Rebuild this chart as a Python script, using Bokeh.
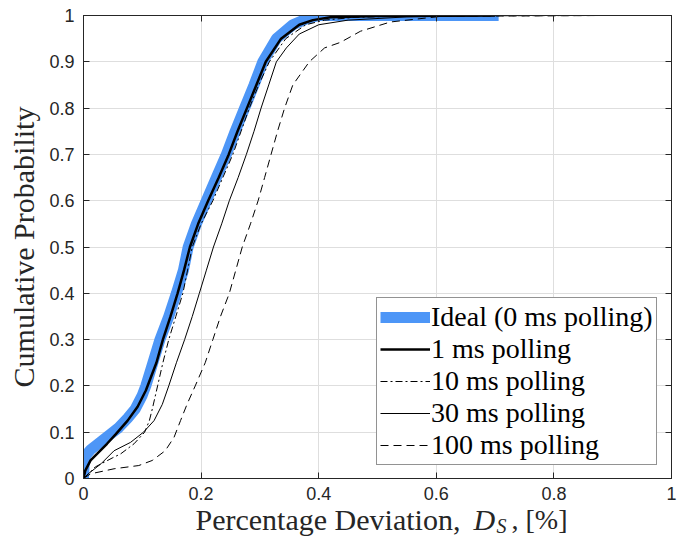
from bokeh.plotting import figure
from bokeh.models import (LinearAxis, FixedTicker, Legend, LegendItem,
                          Range1d, CustomJSTickFormatter)
from bokeh.core.properties import value
from bokeh.layouts import column
from bokeh.embed import file_html
from bokeh.resources import INLINE

# ---------------- data ----------------
ideal_x = [0, 0.001, 0.004, 0.012, 0.025, 0.045, 0.060, 0.075, 0.088, 0.100, 0.106,
           0.118, 0.130, 0.145, 0.158, 0.170, 0.178, 0.192, 0.209, 0.226, 0.243,
           0.258, 0.274, 0.290, 0.305, 0.328, 0.356, 0.380, 0.400, 0.706]
ideal_y = [0, 0.03, 0.05, 0.062, 0.075, 0.095, 0.11, 0.13, 0.15, 0.18, 0.20,
           0.25, 0.30, 0.35, 0.40, 0.45, 0.50, 0.55, 0.60, 0.65, 0.70,
           0.75, 0.80, 0.85, 0.90, 0.95, 0.98, 0.993, 1.0, 1.0]

ms1_x = [0, 0.003, 0.012, 0.023, 0.040, 0.055, 0.075, 0.092, 0.106, 0.112, 0.124,
         0.135, 0.148, 0.160, 0.171, 0.181, 0.195, 0.212, 0.230, 0.247, 0.262,
         0.278, 0.294, 0.310, 0.336, 0.367, 0.390, 0.420, 0.500, 0.700]
ms1_y = [0, 0.017, 0.039, 0.053, 0.075, 0.096, 0.125, 0.155, 0.19, 0.21, 0.25,
         0.30, 0.35, 0.40, 0.45, 0.50, 0.55, 0.60, 0.65, 0.70, 0.75,
         0.80, 0.85, 0.90, 0.95, 0.98, 0.99, 0.996, 0.999, 1.0]

ms10_x = [0, 0.010, 0.020, 0.035, 0.050, 0.063, 0.086, 0.104, 0.112, 0.117, 0.126,
          0.135, 0.145, 0.157, 0.169, 0.177, 0.185, 0.200, 0.220, 0.237, 0.254,
          0.268, 0.282, 0.298, 0.316, 0.344, 0.378, 0.410, 0.460, 0.550, 0.885]
ms10_y = [0, 0.012, 0.025, 0.035, 0.045, 0.053, 0.075, 0.10, 0.125, 0.15, 0.20,
          0.25, 0.30, 0.35, 0.40, 0.45, 0.50, 0.55, 0.60, 0.65, 0.70,
          0.75, 0.80, 0.85, 0.90, 0.95, 0.98, 0.99, 0.996, 0.999, 1.0]

ms30_x = [0, 0.008, 0.018, 0.030, 0.052, 0.080, 0.102, 0.120, 0.134, 0.145, 0.158,
          0.172, 0.185, 0.197, 0.209, 0.221, 0.235, 0.248, 0.263, 0.277, 0.290,
          0.302, 0.315, 0.328, 0.345, 0.367, 0.400, 0.450, 0.550, 0.700]
ms30_y = [0, 0.01, 0.02, 0.032, 0.06, 0.078, 0.10, 0.125, 0.16, 0.20, 0.25,
          0.30, 0.35, 0.40, 0.45, 0.50, 0.55, 0.60, 0.65, 0.70, 0.75,
          0.80, 0.85, 0.90, 0.93, 0.96, 0.98, 0.99, 0.997, 1.0]

ms100_x = [0, 0.012, 0.052, 0.094, 0.117, 0.139, 0.154, 0.165, 0.176, 0.190, 0.207,
           0.220, 0.233, 0.248, 0.259, 0.270, 0.284, 0.297, 0.308, 0.319, 0.330,
           0.342, 0.356, 0.384, 0.410, 0.437, 0.471, 0.522, 0.607, 0.880]
ms100_y = [0, 0.01, 0.021, 0.028, 0.039, 0.06, 0.089, 0.125, 0.16, 0.20, 0.25,
           0.30, 0.35, 0.40, 0.45, 0.50, 0.55, 0.60, 0.65, 0.70, 0.75,
           0.80, 0.85, 0.90, 0.93, 0.942, 0.966, 0.986, 0.998, 1.0]

series_labels = ["Ideal (0 ms polling)", "1 ms polling", "10 ms polling",
                 "30 ms polling", "100 ms polling"]

x_ticks = [0, 0.2, 0.4, 0.6, 0.8, 1]
x_tick_labels = ["0", "0.2", "0.4", "0.6", "0.8", "1"]
y_ticks = [0, 0.1, 0.2, 0.3, 0.4, 0.5, 0.6, 0.7, 0.8, 0.9, 1]
y_tick_labels = ["0", "0.1", "0.2", "0.3", "0.4", "0.5", "0.6", "0.7", "0.8", "0.9", "1"]

y_title = "Cumulative Probability"
x_title_parts = ["Percentage Deviation,", "D", "S", ", [%]"]

# ---------------- layout constants ----------------
AX = "#262626"
SERIF = "Liberation Serif"
SANS = "Liberation Sans"
W = 687
LEFT, RIGHT, TOP = 83, 16, 15
FH = 463
BOTTOM = 29          # tick label band under the frame
P_H = TOP + FH + BOTTOM
TITLE_H = 538 - P_H

p = figure(title=None, width=W, height=P_H,
           x_range=Range1d(0, 1), y_range=Range1d(0, 1),
           output_backend="svg", toolbar_location=None,
           min_border_left=LEFT, min_border_right=RIGHT,
           min_border_top=TOP, min_border_bottom=BOTTOM,
           background_fill_color="white", border_fill_color="white")
p.outline_line_color = AX
p.outline_line_width = 1

xt = FixedTicker(ticks=x_ticks)
yt = FixedTicker(ticks=y_ticks)


def style_axis(ax, ticker, overrides=None, blank=False):
    ax.ticker = ticker
    ax.axis_line_color = AX
    ax.major_tick_line_color = AX
    ax.major_tick_in = 6
    ax.major_tick_out = 0
    ax.minor_tick_in = 0
    ax.minor_tick_out = 0
    ax.major_label_text_font = SANS
    ax.major_label_text_font_size = "18px"
    ax.major_label_text_color = AX
    if blank:
        ax.formatter = CustomJSTickFormatter(code="return ''")
        ax.major_label_standoff = 0
    elif overrides is not None:
        ax.major_label_overrides = overrides


style_axis(p.xaxis[0], xt, dict(zip(x_ticks, x_tick_labels)))
style_axis(p.yaxis[0], yt, dict(zip(y_ticks, y_tick_labels)))
p.xaxis[0].major_label_standoff = 8
p.xaxis[0].axis_label = None
p.yaxis[0].major_label_standoff = 9

p.yaxis[0].axis_label = y_title
p.yaxis[0].axis_label_text_font = SERIF
p.yaxis[0].axis_label_text_font_size = "30px"
p.yaxis[0].axis_label_text_font_style = "normal"
p.yaxis[0].axis_label_text_color = AX
p.yaxis[0].axis_label_standoff = 6

top_ax = LinearAxis(axis_label=None)
style_axis(top_ax, xt, blank=True)
p.add_layout(top_ax, "above")
right_ax = LinearAxis(axis_label=None)
style_axis(right_ax, yt, blank=True)
p.add_layout(right_ax, "right")

p.xgrid.ticker = xt
p.ygrid.ticker = yt
p.xgrid.grid_line_color = "#dedede"
p.ygrid.grid_line_color = "#dedede"

# ---------------- lines ----------------
r0 = p.line(ideal_x, ideal_y, line_color="#4d96f7", line_width=11)
r1 = p.line(ms1_x, ms1_y, line_color="black", line_width=2.5)
r2 = p.line(ms10_x, ms10_y, line_color="black", line_width=1, line_dash="7 3 2 3")
r3 = p.line(ms30_x, ms30_y, line_color="black", line_width=1)
r4 = p.line(ms100_x, ms100_y, line_color="black", line_width=1, line_dash="8 5")

legend = Legend(items=[LegendItem(label=l, renderers=[r])
                       for l, r in zip(series_labels, [r0, r1, r2, r3, r4])],
                location=(293, 13))
legend.label_text_font = SERIF
legend.label_text_font_size = "28px"
legend.label_text_color = "black"
legend.glyph_width = 50
legend.glyph_height = 28
legend.label_height = 28
legend.label_standoff = 1
legend.spacing = 0
legend.padding = 3
legend.margin = 0
legend.border_line_color = AX
legend.border_line_width = 1
legend.background_fill_color = "white"
legend.background_fill_alpha = 1
p.add_layout(legend)

# ---------------- x axis title strip (with italic D_S) ----------------
t = figure(title=None, width=W, height=TITLE_H,
           x_range=p.x_range, y_range=Range1d(0, TITLE_H),
           x_axis_location=None, y_axis_location=None,
           output_backend="svg", toolbar_location=None,
           min_border_left=LEFT, min_border_right=RIGHT,
           min_border_top=0, min_border_bottom=0,
           background_fill_color="white", border_fill_color="white")
t.grid.visible = False
t.outline_line_color = None

FW = W - LEFT - RIGHT


def px(xpage):
    return (xpage - LEFT) / FW


# baseline height inside the strip (the text anchor sits ~10 px low, so lift it)
base = (538 - 529) + 10
pieces = [
    (195, base, x_title_parts[0], "30px", "normal"),
    (473, base, x_title_parts[1], "30px", "italic"),
    (496, base - 6, x_title_parts[2], "20px", "italic"),
    (511, base, x_title_parts[3], "28px", "normal"),
]
for xp, yb, txt, fs, st in pieces:
    t.text(x=[px(xp)], y=[yb], text=[txt], text_font=value(SERIF),
           text_font_size=value(fs), text_font_style=st,
           text_color=AX, text_baseline="alphabetic", text_align="left")

layout = column(p, t, spacing=0)
open("out.html", "w").write(file_html(layout, INLINE))
